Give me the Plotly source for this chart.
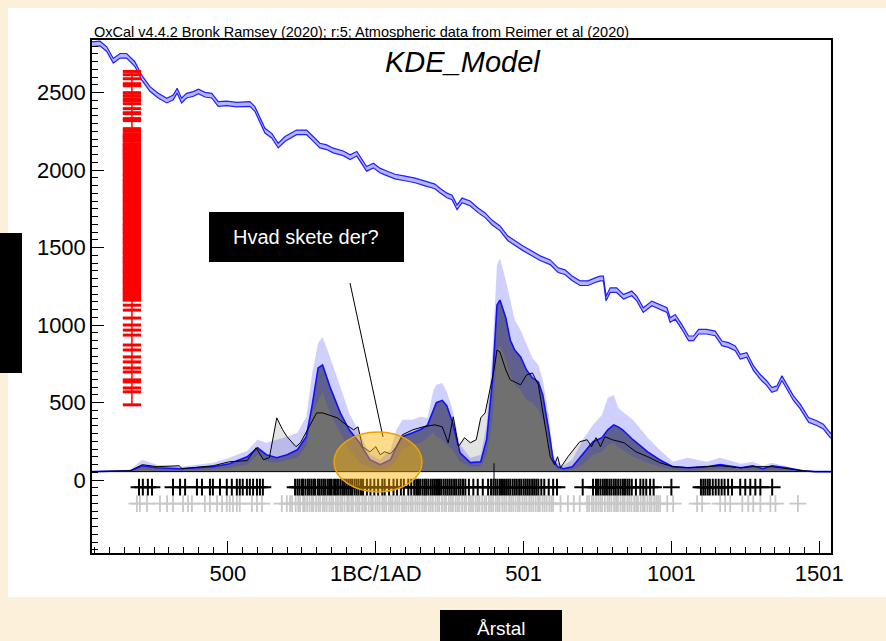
import plotly.graph_objects as go

# ---------------- data ----------------
# Calibration curve (IntCal20-like), calendar year vs radiocarbon age BP
cal_years = [-960, -933, -910, -888, -865, -843, -815, -792, -764, -736,
             -707, -685, -672, -657, -640, -617, -600, -578, -555, -533,
             -504, -471, -426, -409, -375, -352, -330, -307, -268, -234,
             -217, -189, -166, -144, -110, -87, -64, -31, -8, 14,
             31, 65, 99, 133, 167, 200, 217, 241, 258, 275,
             292, 319, 346, 370, 393, 420, 447, 471, 498, 522,
             556, 590, 617, 640, 664, 691, 718, 742, 759, 770,
             779, 793, 815, 838, 866, 883, 905, 934, 962, 985,
             996, 1013, 1035, 1058, 1075, 1092, 1120, 1148, 1171, 1193,
             1216, 1233, 1255, 1278, 1300, 1323, 1340, 1357, 1374, 1391,
             1413, 1436, 1464, 1492, 1514, 1531, 1540]
cal_bp = [2813, 2817, 2781, 2706, 2738, 2738, 2685, 2598, 2524, 2481,
          2449, 2470, 2513, 2449, 2481, 2492, 2508, 2487, 2481, 2427,
          2431, 2423, 2427, 2395, 2255, 2223, 2159, 2202, 2244, 2244,
          2212, 2159, 2148, 2127, 2109, 2084, 2106, 2009, 2030, 1998,
          1985, 1959, 1947, 1934, 1914, 1895, 1869, 1837, 1824, 1760,
          1805, 1786, 1741, 1709, 1663, 1625, 1560, 1528, 1496, 1470,
          1432, 1406, 1355, 1342, 1303, 1271, 1271, 1290, 1301, 1301,
          1172, 1226, 1226, 1183, 1205, 1172, 1097, 1140, 1118, 1097,
          1033, 1054, 990, 915, 915, 958, 958, 947, 883, 872,
          851, 797, 808, 722, 668, 625, 582, 593, 658, 604,
          529, 475, 389, 368, 346, 304, 285]
cal_err = 15

# KDE model: mean and +/- 1 sigma envelope (drawn in BP units above baseline)
kde_years = [-960, -830, -790, -740, -660, -550, -495, -435, -400, -370,
             -335, -300, -265, -235, -215, -195, -180, -155, -120, -90,
             -55, -20, 15, 50, 70, 90, 125, 150, 175, 195,
             205, 225, 240, 260, 285, 320, 355, 375, 395, 410,
             420, 440, 455, 470, 490, 510, 530, 550, 565, 585,
             600, 615, 635, 665, 700, 735, 765, 785, 805, 820,
             835, 870, 920, 960, 1005, 1055, 1120, 1165, 1235, 1275,
             1310, 1340, 1390, 1445, 1485, 1540]
kde_mean = [55, 61, 93, 80, 74, 87, 106, 151, 209, 164,
            145, 164, 196, 280, 486, 724, 743, 602, 434, 325,
            241, 132, 100, 132, 216, 280, 306, 325, 355, 460,
            500, 515, 480, 370, 177, 113, 119, 261, 647, 1129,
            1162, 1046, 904, 840, 795, 711, 660, 634, 550, 325,
            132, 87, 74, 87, 164, 248, 274, 325, 357, 344,
            325, 261, 183, 132, 87, 80, 87, 100, 80, 93,
            74, 93, 80, 61, 55, 55]
kde_hi = [55, 68, 132, 100, 87, 113, 145, 190, 261, 241,
          261, 280, 306, 409, 692, 885, 923, 795, 602, 434,
          306, 164, 132, 196, 325, 389, 389, 409, 402, 582,
          615, 627, 570, 454, 228, 145, 164, 357, 840, 1387,
          1432, 1290, 1162, 1033, 968, 872, 788, 743, 647, 421,
          164, 113, 93, 132, 261, 357, 421, 531, 550, 467,
          441, 389, 274, 196, 119, 145, 119, 145, 106, 119,
          93, 113, 87, 61, 55, 55]
kde_lo = [55, 55, 68, 61, 61, 68, 80, 100, 164, 119,
          113, 132, 145, 216, 434, 518, 570, 434, 306, 196,
          113, 80, 68, 80, 132, 196, 228, 241, 274, 312,
          280, 261, 228, 196, 119, 87, 87, 164, 389, 840,
          872, 775, 679, 615, 582, 518, 499, 454, 389, 228,
          100, 68, 61, 68, 100, 164, 183, 228, 241, 216,
          196, 151, 113, 87, 68, 61, 68, 74, 68, 68,
          61, 68, 61, 55, 55, 55]

# Summed probability (black line)
sum_years = [-960, -830, -790, -740, -665, -655, -550, -495, -435, -405,
             -380, -360, -335, -315, -300, -270, -255, -240, -220, -200,
             -180, -160, -130, -100, -75, -60, -45, -20, 0, 15,
             30, 50, 70, 90, 125, 160, 200, 225, 245, 262,
             280, 300, 320, 340, 355, 370, 385, 400, 410, 420,
             440, 455, 470, 490, 510, 530, 550, 565, 575, 590,
             605, 615, 625, 650, 690, 715, 730, 745, 760, 775,
             800, 840, 880, 920, 960, 1005, 1060, 1120, 1165, 1235,
             1275, 1340, 1390, 1445, 1485, 1540]
sum_bp = [55, 61, 100, 87, 93, 74, 93, 119, 126, 209,
          132, 145, 402, 325, 280, 216, 241, 293, 370, 434,
          434, 421, 402, 357, 325, 344, 216, 183, 216, 164,
          183, 170, 216, 293, 325, 344, 357, 344, 241, 409,
          216, 274, 241, 261, 402, 434, 563, 711, 840, 827,
          711, 647, 634, 615, 679, 692, 615, 434, 344, 151,
          100, 151, 80, 151, 248, 261, 216, 274, 216, 280,
          261, 241, 183, 151, 113, 87, 80, 87, 93, 80,
          87, 87, 74, 61, 55, 55]
baseline_bp = 55

# Radiocarbon determinations (red crosses on the BP axis)
red_bp = [2637, 2616, 2590, 2558, 2545, 2500, 2481, 2461, 2448, 2429,
          2397, 2371, 2365, 2333, 2320, 2268, 2255, 2236, 2226, 2218, 2212,
          2199, 2193, 2188, 2171, 2166, 2160, 2151, 2142, 2133, 2127, 2121, 2110, 2103, 2097, 2083,
          2077, 2072, 2060, 2052, 2044, 2031, 2022, 2014, 2006, 1993, 1982, 1973, 1966, 1957,
          1941, 1935, 1929, 1917, 1909, 1903, 1891, 1884, 1876, 1866, 1858, 1851, 1838, 1827,
          1819, 1811, 1801, 1794, 1786, 1773, 1762, 1755, 1747, 1736, 1728, 1722, 1708, 1697,
          1689, 1681, 1672, 1656, 1649, 1643, 1632, 1624, 1617, 1606, 1598, 1591, 1578, 1567,
          1559, 1551, 1541, 1533, 1526, 1513, 1502, 1494, 1486, 1476, 1468, 1461, 1448, 1437,
          1430, 1421, 1411, 1403, 1396, 1383, 1372, 1364, 1356, 1346, 1338, 1331, 1318, 1307,
          1299, 1291, 1281, 1273, 1266, 1253, 1242, 1234, 1226, 1216, 1208, 1201, 1188, 1177,
          1168, 1161, 1129, 1097, 1046, 1001, 968, 936, 872, 840, 795,
          763, 724, 698, 647, 634, 595, 570, 486]
red_year = -825

# Calibrated dates (black crosses) and unmodelled dates (grey crosses)
black_years = [-801, -788, -771, -757, -686, -662, -645, -605, -588, -561,
               -551, -527, -504, -487, -470, -460, -450, -436, -426, -415,
               -402, -392, -382, -273, -265, -258, -250, -246, -238, -230,
               -224, -217, -210, -205, -196, -190, -183, -176, -170, -162,
               -155, -149, -141, -135, -128, -120, -113, -107, -100, -93,
               -86, -80, -72, -65, -58, -50, -43, -30, -18, -5,
               8, 22, 30, 45, 60, 72, 85, 95, 110, 120,
               130, 137, 143, 150, 158, 165, 171, 178, 186, 193,
               200, 207, 214, 221, 229, 236, 243, 250, 257, 265,
               272, 280, 287, 295, 303, 315, 330, 345, 362, 380,
               390, 398, 405, 412, 420, 427, 434, 441, 448, 455,
               463, 470, 477, 485, 492, 500, 507, 514, 521, 529,
               536, 543, 550, 560, 570, 585, 600, 613, 700, 735,
               745, 752, 760, 768, 775, 782, 790, 797, 805, 812,
               820, 828, 836, 843, 851, 858, 866, 880, 895, 905,
               915, 928, 940, 1000, 1100, 1108, 1115, 1123, 1130, 1140,
               1150, 1160, 1170, 1180, 1192, 1205, 1233, 1250, 1267, 1284,
               1301, 1341]
grey_years = [-808, -798, -774, -730, -706, -686, -652, -635, -622, -578,
              -561, -537, -520, -504, -494, -483, -470, -460, -419, -402,
              -385, -318, -301, -290, -283, -271, -262, -256, -246, -240,
              -232, -224, -216, -211, -202, -194, -188, -179, -173, -166,
              -157, -150, -144, -135, -128, -120, -114, -106, -97, -91,
              -83, -77, -68, -61, -55, -46, -39, -33, -24, -16,
              -10, -1, 6, 13, 22, 28, 35, 44, 51, 57,
              66, 73, 80, 89, 96, 103, 111, 119, 125, 134,
              141, 148, 157, 164, 170, 179, 186, 193, 202, 209,
              215, 224, 232, 238, 247, 254, 261, 270, 277, 283,
              292, 300, 306, 315, 322, 329, 338, 345, 351, 360,
              368, 374, 383, 390, 397, 406, 413, 419, 428, 435,
              442, 451, 458, 465, 473, 481, 487, 496, 503, 510,
              519, 526, 533, 541, 549, 555, 564, 571, 578, 587,
              594, 600, 625, 650, 670, 690, 715, 722, 731, 737,
              745, 753, 760, 766, 775, 784, 790, 797, 806, 813,
              819, 828, 836, 842, 851, 858, 865, 874, 881, 887,
              896, 904, 910, 919, 927, 933, 942, 949, 955, 962,
              986, 1006, 1087, 1104, 1165, 1182, 1199, 1240, 1260, 1277,
              1301, 1335, 1352, 1428]
black_row_bp = -45
grey_row_bp = -152
median_year = 400

x_range = [-960, 1540]
y_range = [-470, 2840]
x_tickvals = [-500, 0, 500, 1000, 1500]
x_ticktext = ["500", "1BC/1AD", "501", "1001", "1501"]
y_tickvals = [0, 500, 1000, 1500, 2000, 2500]

# ---------------- figure ----------------
FONT = "Liberation Sans, Arial, Helvetica, sans-serif"
fig = go.Figure()

def add(tr):
    tr.update(showlegend=False, hoverinfo="skip")
    fig.add_trace(tr)

# calibration curve band
add(go.Scatter(x=cal_years, y=[v - cal_err for v in cal_bp], mode="lines",
               line=dict(color="#1f1fff", width=1.2)))
add(go.Scatter(x=cal_years, y=[v + cal_err for v in cal_bp], mode="lines",
               line=dict(color="#1f1fff", width=1.2), fill="tonexty",
               fillcolor="rgba(120,120,255,0.55)"))

# summed distribution (light grey fill)
add(go.Scatter(x=x_range, y=[baseline_bp, baseline_bp], mode="lines", line=dict(width=0)))
add(go.Scatter(x=sum_years, y=sum_bp, mode="lines", line=dict(width=0),
               fill="tonexty", fillcolor="#e3e3e3"))
# KDE mean (dark grey fill)
add(go.Scatter(x=x_range, y=[baseline_bp, baseline_bp], mode="lines", line=dict(width=0)))
add(go.Scatter(x=kde_years, y=kde_mean, mode="lines", line=dict(width=0),
               fill="tonexty", fillcolor="#707070"))
# KDE +/- sigma band (transparent blue)
add(go.Scatter(x=kde_years, y=kde_lo, mode="lines", line=dict(width=0)))
add(go.Scatter(x=kde_years, y=kde_hi, mode="lines", line=dict(width=0),
               fill="tonexty", fillcolor="rgba(40,40,255,0.22)"))
# baseline
add(go.Scatter(x=x_range, y=[baseline_bp, baseline_bp], mode="lines",
               line=dict(color="black", width=1)))
# KDE mean line
add(go.Scatter(x=kde_years, y=kde_mean, mode="lines",
               line=dict(color="#1010ff", width=1.6)))
# sum line
add(go.Scatter(x=sum_years, y=sum_bp, mode="lines",
               line=dict(color="black", width=1)))
# median marker
add(go.Scatter(x=[median_year], y=[baseline_bp], mode="markers",
               marker=dict(symbol="line-ns", size=12, line=dict(color="black", width=1))))

# red radiocarbon determinations
add(go.Scatter(x=[red_year, red_year], y=[min(red_bp), max(red_bp)], mode="lines",
               line=dict(color="#ff0000", width=1.5)))
add(go.Scatter(x=[red_year] * len(red_bp), y=red_bp, mode="markers",
               marker=dict(symbol="line-ew", size=13, line=dict(color="#ff0000", width=3))))

# rows of crosses
add(go.Scatter(x=grey_years, y=[grey_row_bp] * len(grey_years), mode="markers",
               marker=dict(symbol="cross-thin", size=12, line=dict(color="#c8c8c8", width=1.8))))
add(go.Scatter(x=black_years, y=[black_row_bp] * len(black_years), mode="markers",
               marker=dict(symbol="cross-thin", size=12, line=dict(color="black", width=2))))

axis_common = dict(showgrid=False, zeroline=False, showline=True, linecolor="black",
                   linewidth=1.5, mirror=True, ticks="inside", ticklen=12, tickwidth=1,
                   tickcolor="black", tickfont=dict(family=FONT, size=22, color="black"))
fig.update_xaxes(range=x_range, tickvals=x_tickvals, ticktext=x_ticktext,
                 minor=dict(ticks="inside", ticklen=6, dtick=50, tick0=0,
                            tickcolor="black", tickwidth=1),
                 **axis_common)
fig.update_yaxes(range=y_range, tickvals=y_tickvals,
                 minor=dict(ticks="inside", ticklen=6, dtick=50, tick0=0,
                            tickcolor="black", tickwidth=1),
                 **axis_common)

def px_x(px):
    return (px - 92) / 739.0

def px_y(py):
    return (553 - py) / 513.0

shapes = [
    # white panel
    dict(type="rect", xref="paper", yref="paper", x0=px_x(8), x1=px_x(886),
         y0=px_y(597), y1=px_y(8), fillcolor="white", line=dict(width=0), layer="below"),
    # left black box
    dict(type="rect", xref="paper", yref="paper", x0=px_x(0), x1=px_x(22),
         y0=px_y(373), y1=px_y(233), fillcolor="black", line=dict(width=0)),
    # bottom label box
    dict(type="rect", xref="paper", yref="paper", x0=px_x(440), x1=px_x(562),
         y0=px_y(641), y1=px_y(610), fillcolor="black", line=dict(width=0)),
    # callout box
    dict(type="rect", xref="paper", yref="paper", x0=px_x(209), x1=px_x(404),
         y0=px_y(262), y1=px_y(212), fillcolor="black", line=dict(width=0)),
    # pointer line
    dict(type="line", xref="paper", yref="paper", x0=px_x(350), y0=px_y(283),
         x1=px_x(383), y1=px_y(437), line=dict(color="black", width=1)),
    # highlight ellipse
    dict(type="circle", xref="paper", yref="paper", x0=px_x(334), x1=px_x(422),
         y0=px_y(492), y1=px_y(432), fillcolor="rgba(255,178,0,0.45)",
         line=dict(color="#f0a000", width=1.5)),
]

annotations = [
    dict(text="OxCal v4.4.2 Bronk Ramsey (2020); r:5; Atmospheric data from Reimer et al (2020)",
         xref="paper", yref="paper", x=0, y=px_y(32), xanchor="left", yanchor="middle",
         showarrow=False, font=dict(family=FONT, size=14.5, color="black")),
    dict(text="<i>KDE_Model</i>", xref="paper", yref="paper", x=px_x(463), y=px_y(62),
         xanchor="center", yanchor="middle", showarrow=False,
         font=dict(family=FONT, size=29, color="black")),
    dict(text="Hvad skete der?", xref="paper", yref="paper", x=px_x(306), y=px_y(237),
         xanchor="center", yanchor="middle", showarrow=False,
         font=dict(family=FONT, size=20, color="white")),
    dict(text="Årstal", xref="paper", yref="paper", x=px_x(501), y=px_y(628),
         xanchor="center", yanchor="middle", showarrow=False,
         font=dict(family=FONT, size=19, color="white")),
]

fig.update_layout(width=886, height=641, margin=dict(l=92, r=55, t=40, b=88),
                  paper_bgcolor="#fdf0da", plot_bgcolor="white",
                  shapes=shapes, annotations=annotations,
                  font=dict(family=FONT))

fig.write_html("out.html", config={"displayModeBar": False},
               post_script="document.body.style.margin='0px';"
                           "document.body.style.background='#fdf0da';")
